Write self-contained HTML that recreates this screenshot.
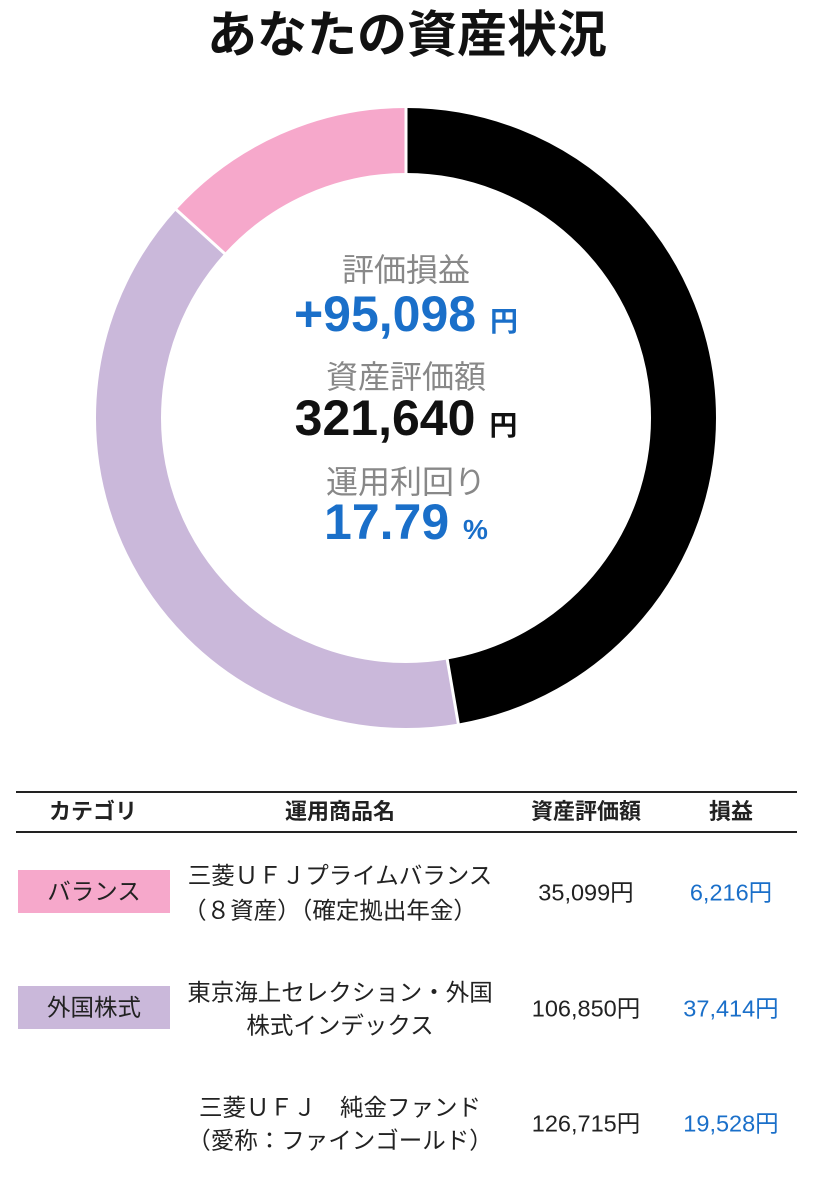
<!DOCTYPE html>
<html><head><meta charset="utf-8"><style>
body{margin:0;width:813px;height:1200px;background:#fff;position:relative;overflow:hidden;font-family:"Liberation Sans","Noto Sans CJK JP",sans-serif}
.a{position:absolute;white-space:nowrap;transform:translate(-50%,-50%);line-height:1}
.t{font-size:22px;color:#222}
.n{font-size:23.5px;color:#222}
.b{color:#1a6fc9}
</style></head><body>
<div class="a" style="left:407px;top:35px;font-size:50px;font-weight:bold;color:#111">あなたの資産状況</div>
<svg width="813" height="760" style="position:absolute;left:0;top:0">
<g transform="rotate(-90 406 418)" fill="none" stroke-width="65">
<circle cx="406" cy="418" r="277.5" stroke="#000" stroke-dasharray="824.8 2000" stroke-dashoffset="0"/>
<circle cx="406" cy="418" r="277.5" stroke="#cab8da" stroke-dasharray="687.3 2000" stroke-dashoffset="-824.8"/>
<circle cx="406" cy="418" r="277.5" stroke="#f6a8cb" stroke-dasharray="231.5 2000" stroke-dashoffset="-1512.1"/>
</g>
<g stroke="#fff" stroke-width="3">
<line x1="406" y1="103" x2="406" y2="178"/>
<line x1="446.4" y1="654.6" x2="459.1" y2="728.5"/>
<line x1="228.2" y1="256.8" x2="172.6" y2="206.4"/>
</g>
</svg>
<div class="a" style="left:406px;top:270px;font-size:32px;color:#888">評価損益</div>
<div class="a b" style="left:406px;top:314px;font-size:50px;font-weight:bold">+95,098 <span style="font-size:28px">円</span></div>
<div class="a" style="left:406px;top:377px;font-size:32px;color:#888">資産評価額</div>
<div class="a" style="left:406px;top:418px;font-size:50px;font-weight:bold;color:#111">321,640 <span style="font-size:28px">円</span></div>
<div class="a" style="left:406px;top:482px;font-size:32px;color:#888">運用利回り</div>
<div class="a b" style="left:406px;top:522px;font-size:50px;font-weight:bold">17.79 <span style="font-size:28px">%</span></div>

<div style="position:absolute;left:16px;top:791px;width:781px;height:2px;background:#222"></div>
<div style="position:absolute;left:16px;top:831px;width:781px;height:2px;background:#222"></div>
<div class="a t" style="left:93px;top:812px;font-weight:bold">カテゴリ</div>
<div class="a t" style="left:340px;top:812px;font-weight:bold">運用商品名</div>
<div class="a t" style="left:586px;top:812px;font-weight:bold">資産評価額</div>
<div class="a t" style="left:731px;top:812px;font-weight:bold">損益</div>

<div style="position:absolute;left:18px;top:870px;width:152px;height:43px;background:#f6a8cb"></div>
<div class="a n" style="left:94px;top:892px">バランス</div>
<div class="a n" style="left:340px;top:876px">三菱ＵＦＪプライムバランス</div>
<div class="a n" style="left:330px;top:911px">（８資産）（確定拠出年金）</div>
<div class="a n" style="left:586px;top:893px">35,099円</div>
<div class="a n b" style="left:731px;top:893px">6,216円</div>

<div style="position:absolute;left:18px;top:986px;width:152px;height:43px;background:#cab8da"></div>
<div class="a n" style="left:94px;top:1008px">外国株式</div>
<div class="a n" style="left:340px;top:993px">東京海上セレクション・外国</div>
<div class="a n" style="left:340px;top:1026px">株式インデックス</div>
<div class="a n" style="left:586px;top:1009px">106,850円</div>
<div class="a n b" style="left:731px;top:1009px">37,414円</div>

<div class="a n" style="left:340px;top:1108px">三菱ＵＦＪ　純金ファンド</div>
<div class="a n" style="left:340px;top:1141px">（愛称：ファインゴールド）</div>
<div class="a n" style="left:586px;top:1124px">126,715円</div>
<div class="a n b" style="left:731px;top:1124px">19,528円</div>
</body></html>
